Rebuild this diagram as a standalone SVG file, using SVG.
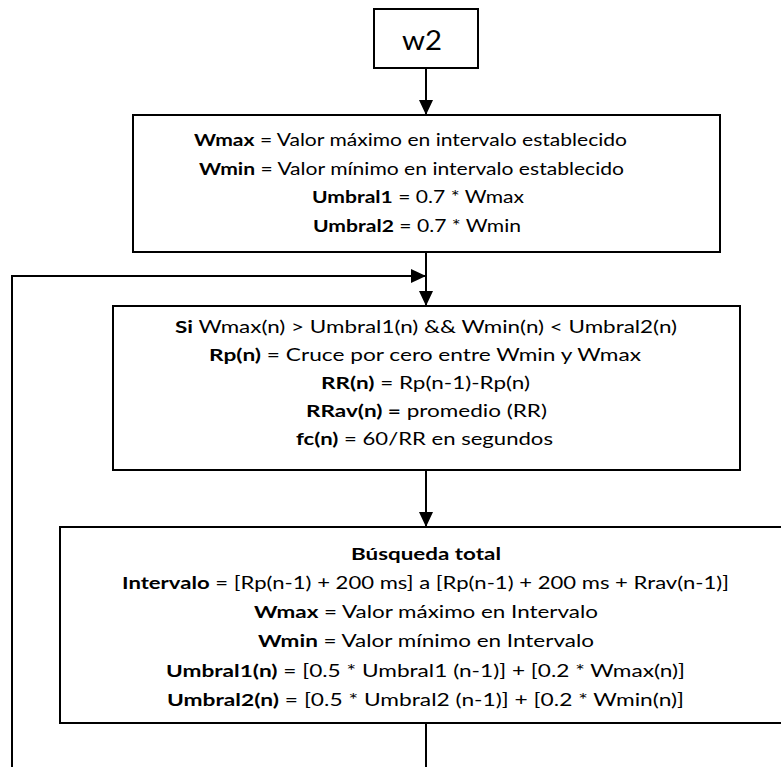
<svg xmlns="http://www.w3.org/2000/svg" width="781" height="767" viewBox="0 0 781 767">
<style>
.box{fill:#fff;stroke:#000;stroke-width:2}
.t{font-family:Lato,"Liberation Sans",sans-serif;font-size:17px;fill:#000}
.b{font-weight:bold}
.c{fill:none;stroke:#000;stroke-width:2}
</style>
<defs>
<marker id="ah" markerUnits="userSpaceOnUse" markerWidth="16" markerHeight="15" refX="15" refY="7" orient="auto">
<path d="M0,0 L15,7 L0,14 z" fill="#000"/>
</marker>
</defs>
<rect width="781" height="767" fill="#fff"/>
<g id="connectors">
<path class="c" d="M426,68 L426,115" marker-end="url(#ah)"/>
<path class="c" d="M426,252 L426,306" marker-end="url(#ah)"/>
<path class="c" d="M12,767 L12,276 L426,276" marker-end="url(#ah)"/>
<path class="c" d="M426,470 L426,527" marker-end="url(#ah)"/>
<path class="c" d="M426,723 L426,767"/>
</g>
<g id="w2">
<rect class="box" x="374" y="9" width="104" height="59"/>
<text class="t" x="402" y="50" textLength="40" lengthAdjust="spacingAndGlyphs" style="font-size:26px">w2</text>
</g>
<g id="init">
<rect class="box" x="133" y="115" width="587" height="137"/>
<text class="t" x="194" y="146" textLength="433" lengthAdjust="spacingAndGlyphs"><tspan class="b">Wmax</tspan> = Valor máximo en intervalo establecido</text>
<text class="t" x="199" y="175" textLength="425" lengthAdjust="spacingAndGlyphs"><tspan class="b">Wmin</tspan> = Valor mínimo en intervalo establecido</text>
<text class="t" x="312" y="203" textLength="212" lengthAdjust="spacingAndGlyphs"><tspan class="b">Umbral1</tspan> = 0.7 * Wmax</text>
<text class="t" x="313" y="232" textLength="208" lengthAdjust="spacingAndGlyphs"><tspan class="b">Umbral2</tspan> = 0.7 * Wmin</text>
</g>
<g id="detect">
<rect class="box" x="113" y="306" width="627" height="164"/>
<text class="t" x="175" y="333" textLength="502" lengthAdjust="spacingAndGlyphs"><tspan class="b">Si</tspan> Wmax(n) &gt; Umbral1(n) &amp;&amp; Wmin(n) &lt; Umbral2(n)</text>
<text class="t" x="209" y="361" textLength="432" lengthAdjust="spacingAndGlyphs"><tspan class="b">Rp(n)</tspan> = Cruce por cero entre Wmin y Wmax</text>
<text class="t" x="321" y="389" textLength="209" lengthAdjust="spacingAndGlyphs"><tspan class="b">RR(n)</tspan> = Rp(n-1)-Rp(n)</text>
<text class="t" x="306" y="417" textLength="241" lengthAdjust="spacingAndGlyphs"><tspan class="b">RRav(n) =</tspan> promedio (RR)</text>
<text class="t" x="296" y="445" textLength="257" lengthAdjust="spacingAndGlyphs"><tspan class="b">fc(n)</tspan> = 60/RR en segundos</text>
</g>
<g id="search">
<rect class="box" x="60" y="527" width="740" height="196"/>
<text class="t b" x="351" y="560" textLength="150" lengthAdjust="spacingAndGlyphs">Búsqueda total</text>
<text class="t" x="122" y="589" textLength="607" lengthAdjust="spacingAndGlyphs"><tspan class="b">Intervalo</tspan> = [Rp(n-1) + 200 ms] a [Rp(n-1) + 200 ms + Rrav(n-1)]</text>
<text class="t" x="254" y="618" textLength="344" lengthAdjust="spacingAndGlyphs"><tspan class="b">Wmax</tspan> = Valor máximo en Intervalo</text>
<text class="t" x="258" y="647" textLength="336" lengthAdjust="spacingAndGlyphs"><tspan class="b">Wmin</tspan> = Valor mínimo en Intervalo</text>
<text class="t" x="166" y="677" textLength="519" lengthAdjust="spacingAndGlyphs"><tspan class="b">Umbral1(n)</tspan> = [0.5 * Umbral1 (n-1)] + [0.2 * Wmax(n)]</text>
<text class="t" x="167" y="706" textLength="517" lengthAdjust="spacingAndGlyphs"><tspan class="b">Umbral2(n)</tspan> = [0.5 * Umbral2 (n-1)] + [0.2 * Wmin(n)]</text>
</g>
</svg>
